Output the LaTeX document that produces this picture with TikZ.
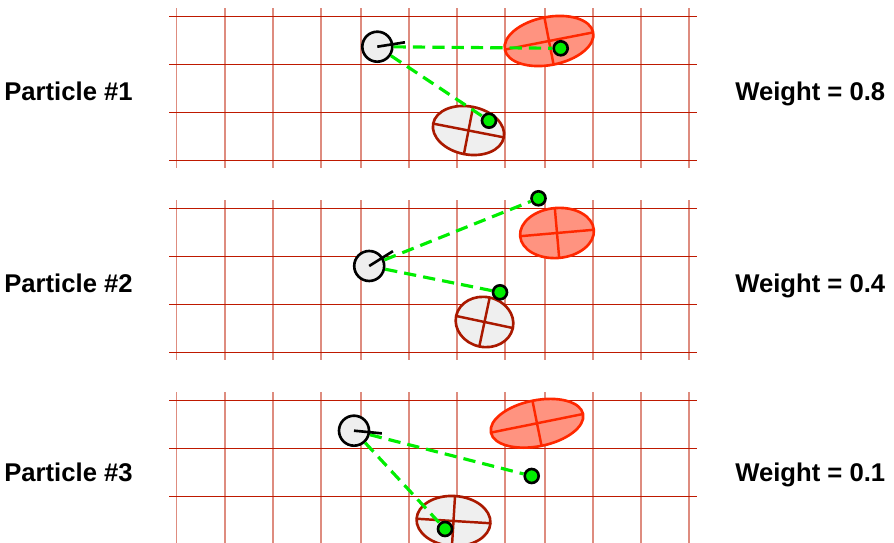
\documentclass[tikz,border=0pt]{standalone}
\usepackage{fontspec}
\setmainfont{Liberation Sans}
\usetikzlibrary{calc}
\definecolor{GridRed}{RGB}{190,25,0}
\definecolor{EstRed}{RGB}{255,40,0}
\definecolor{EstDark}{RGB}{170,25,0}
\definecolor{EstGray}{RGB}{220,220,220}
\definecolor{RobGray}{RGB}{238,238,238}
\definecolor{ObsGreen}{RGB}{0,238,0}

% belief ellipse: centre, angle, x radius, y radius, line colour, fill
\newcommand{\beliefell}[6]{%
  \begin{scope}[shift={#1}, rotate=#2]
    \filldraw[draw=#5, fill=#6, line width=1.5pt] (0,0)
          ellipse [x radius=#3, y radius=#4];
    \draw[#5, line width=1.4pt] (-#3,0) -- (#3,0);
    \draw[#5, line width=1.4pt] (0,-#4) -- (0,#4);
  \end{scope}}

\begin{document}
\begin{tikzpicture}[x=0.02cm, y=-0.02cm,
          robot/.style={circle, draw=black, fill=RobGray, line width=1.5pt,
                        minimum size=0.6cm, inner sep=0pt},
          obsdot/.style={circle, draw=black, fill=ObsGreen, line width=1.5pt,
                         minimum size=0.28cm, inner sep=0pt},
          obsline/.style={ObsGreen, line width=1.8pt,
                          dash pattern=on 7pt off 4pt},
          heading/.style={black, line width=1.5pt},
          gridh/.style={GridRed, line width=0.6pt},
          gridv/.style={GridRed, opacity=0.5, line width=1pt},
          lbl/.style={anchor=base west, inner sep=0pt,
                      font=\fontsize{14.6}{17}\selectfont\bfseries}
        ]
        \useasboundingbox (0,0) rectangle (894,543);

        % Map grids
        \foreach \py in {16.5, 208.5, 400.5} {
          \foreach \gx in {176.5, 225, 273, 321, 361, 409, 457, 505,
                           545, 593, 641, 689}
            \draw[gridv] (\gx, \py-8) -- (\gx, \py+152);
          \foreach \k in {0,...,3}
            \draw[gridh] (169, \py+48*\k) -- (697, \py+48*\k);
        }

        % Landmark estimates
        \beliefell{(549,41)}{11}{45}{24}{EstRed}{EstRed!50}
        \beliefell{(468.5,130.5)}{-11}{36}{24}{EstDark}{EstGray!45}
        \beliefell{(557,233)}{5}{37}{25}{EstRed}{EstRed!50}
        \beliefell{(484.5,322)}{-12}{29}{25}{EstDark}{EstGray!45}
        \beliefell{(537,423.3)}{11.4}{47}{23}{EstRed}{EstRed!50}
        \beliefell{(453.5,521)}{-3.5}{37}{25}{EstDark}{EstGray!45}

        % Particle #1
        \node[robot] (r1) at (377.3,46.7) {};
        \node[obsdot] (d1a) at (560.7,48.3) {};
        \node[obsdot] (d1b) at (489,120.7) {};
        \draw[obsline] (r1) -- (d1a);
        \draw[obsline] (r1) -- (d1b);
        \draw[heading] (r1.center) -- ++(-9:28);
        \node[lbl] (p1) at (4,101) {Particle \#1};
        \node[lbl] (w1) at (735,101) {Weight = 0.8};

        % Particle #2
        \node[robot] (r2) at (369.2,266) {};
        \node[obsdot] (d2a) at (538.5,198.3) {};
        \node[obsdot] (d2b) at (500,292.3) {};
        \draw[obsline] (r2) -- (d2a);
        \draw[obsline] (r2) -- (d2b);
        \draw[heading] (r2.center) -- ++(-32:28);
        \node[lbl] (p2) at (4,293) {Particle \#2};
        \node[lbl] (w2) at (735,293) {Weight = 0.4};

        % Particle #3
        \node[robot] (r3) at (354,430.7) {};
        \node[obsdot] (d3a) at (531.7,476) {};
        \node[obsdot] (d3b) at (445,529) {};
        \draw[obsline] (r3) -- (d3a);
        \draw[obsline] (r3) -- (d3b);
        \draw[heading] (r3.center) -- ++(5.5:28);
        \node[lbl] (p3) at (4,482) {Particle \#3};
        \node[lbl] (w3) at (735,482) {Weight = 0.1};
      \end{tikzpicture}
\end{document}
